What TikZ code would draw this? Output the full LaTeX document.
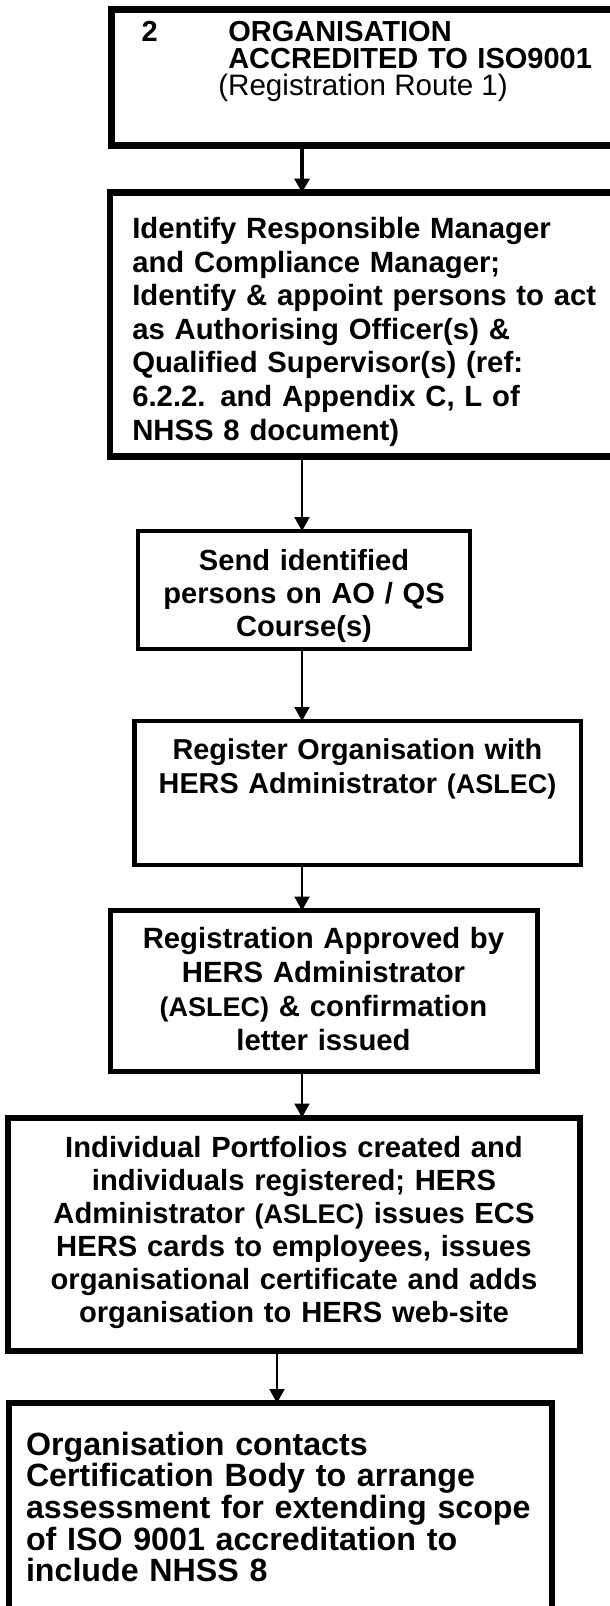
\documentclass[tikz,border=0pt]{standalone}
\usepackage{fontspec}
\setmainfont{Liberation Sans}
\usetikzlibrary{arrows.meta}
\tikzset{
  box/.style={draw=black, inner sep=0pt, outer sep=0pt},
  txt/.style={inner sep=0pt, outer sep=0pt},
  arr/.style={draw=black, line width=2pt, -{Triangle[width=15pt,length=14pt]}},
}
\newcommand{\aslec}{{\fontsize{27}{30}\selectfont (ASLEC)}}
\begin{document}
\begin{tikzpicture}[x=1pt,y=-1pt]
\useasboundingbox (0,0) rectangle (610,1606);
\fill[white] (0,0) rectangle (610,1606);
\clip (0,0) rectangle (610,1606);

% boxes
\node[box, line width=6.5pt, minimum width=508.5pt, minimum height=136pt] (b1) at (365.75,77.5) {};
\node[box, line width=6.5pt, minimum width=510pt, minimum height=264pt] (b2) at (365,324.5) {};
\node[box, line width=4pt, minimum width=332pt, minimum height=118pt] (b3) at (304,590) {};
\node[box, line width=4.5pt, minimum width=446.5pt, minimum height=144pt] (b4) at (357.75,793) {};
\node[box, line width=5pt, minimum width=427.5pt, minimum height=160.5pt] (b5) at (323.75,990.75) {};
\node[box, line width=6pt, minimum width=572pt, minimum height=233.5pt] (b6) at (294,1234.25) {};
\node[box, line width=6pt, minimum width=543pt, minimum height=222pt] (b7) at (280.5,1514) {};

% texts
\node[txt, anchor=base west, font=\bfseries\fontsize{29}{27.3}\selectfont] (t1n) at (141.7,41) {2};
\node[txt, anchor=base west, text width=380pt, align=left, font=\bfseries\fontsize{29}{27.3}\selectfont] (t1) at (228.3,41) {ORGANISATION\\ACCREDITED TO ISO9001};
\node[txt, anchor=base west, font=\fontsize{29.6}{30}\selectfont] (t1r) at (218.3,95) {(Registration Route 1)};

\node[txt, anchor=base west, text width=470pt, align=left, font=\bfseries\fontsize{29.3}{33.6}\selectfont] (t2) at (132.3,238.5)
  {Identify Responsible Manager\\and Compliance Manager;\\Identify \& appoint persons to act\\as Authorising Officer(s) \&\\Qualified Supervisor(s) (ref:\\6.2.2. and Appendix C, L of\\NHSS 8 document)};

\node[txt, anchor=base, text width=330pt, align=center, font=\bfseries\fontsize{29.1}{33}\selectfont] (t3) at (304,570)
  {Send identified\\persons on AO / QS\\Course(s)};

\node[txt, anchor=base, text width=440pt, align=center, font=\bfseries\fontsize{28.8}{34}\selectfont] (t4) at (357.5,759)
  {Register Organisation with\\HERS Administrator \aslec};

\node[txt, anchor=base, text width=420pt, align=center, font=\bfseries\fontsize{29.3}{34}\selectfont] (t5) at (323.5,948.3)
  {Registration Approved by\\HERS Administrator\\\aslec{} \& confirmation\\letter issued};

\node[txt, anchor=base, text width=560pt, align=center, font=\bfseries\fontsize{29.2}{33}\selectfont] (t6) at (294,1157)
  {Individual Portfolios created and\\individuals registered; HERS\\Administrator \aslec{} issues ECS\\HERS cards to employees, issues\\organisational certificate and adds\\organisation to HERS web-site};

\node[txt, anchor=base west, text width=530pt, align=left, font=\bfseries\fontsize{32.2}{31.7}\selectfont] (t7) at (26,1455)
  {Organisation contacts\\Certification Body to arrange\\assessment for extending scope\\of ISO 9001 accreditation to\\include NHSS 8};

% arrows
\coordinate (ax) at (302,0);
\coordinate (bx) at (277,0);
\draw[arr, line width=4pt] (b1.south -| ax) -- (b2.north -| ax);
\draw[arr] (b2.south -| ax) -- (b3.north -| ax);
\draw[arr] (b3.south -| ax) -- (b4.north -| ax);
\draw[arr] (b4.south -| ax) -- (b5.north -| ax);
\draw[arr, shorten <=3pt] (b5.south -| ax) -- (b6.north -| ax);
\draw[arr] (b6.south -| bx) -- (b7.north -| bx);
\end{tikzpicture}
\end{document}
